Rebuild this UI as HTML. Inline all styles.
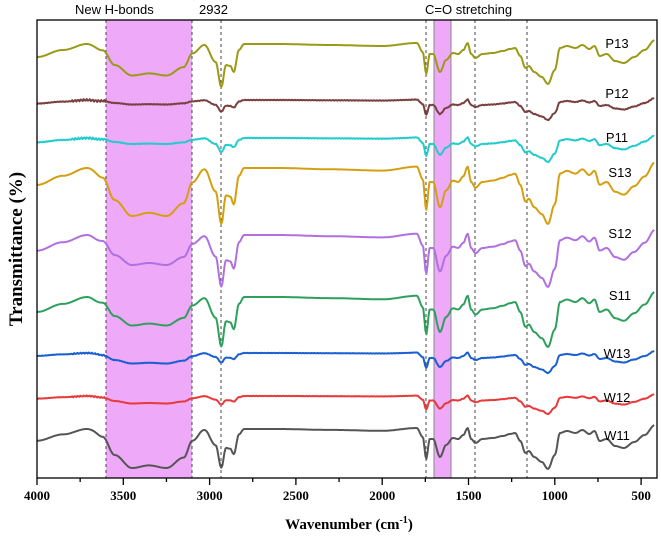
<!DOCTYPE html>
<html><head><meta charset="utf-8"><style>
body{margin:0;background:#fff;width:661px;height:543px;overflow:hidden}
svg{display:block}
.s{font-family:"Liberation Sans",sans-serif}
.r{font-family:"Liberation Serif",serif;font-weight:bold}
</style></head><body>
<svg id="s" width="661" height="543" viewBox="0 0 661 543" xmlns="http://www.w3.org/2000/svg">
<rect x="106" y="20" width="86" height="458" fill="#eeaaf8"/>
<rect x="434" y="20" width="17" height="458" fill="#eeaaf8"/>
<g stroke="#444" stroke-width="1" stroke-dasharray="3,3" fill="none">
<line x1="106" y1="20" x2="106" y2="478"/><line x1="192" y1="20" x2="192" y2="478"/>
<line x1="221" y1="20" x2="221" y2="478"/><line x1="426" y1="20" x2="426" y2="478"/>
<line x1="475" y1="20" x2="475" y2="478"/><line x1="527" y1="20" x2="527" y2="478"/>
</g>
<line x1="434" y1="20" x2="434" y2="478" stroke="#888"/><line x1="451" y1="20" x2="451" y2="478" stroke="#888"/>
<g id="curves" fill="none" stroke-width="2" stroke-linejoin="round"></g>
<rect x="37" y="20" width="620" height="458" fill="none" stroke="#000" stroke-width="1.3"/>
<g id="ticks" stroke="#000" stroke-width="1.3"></g>
<g font-size="13" class="r" text-anchor="middle" id="tl"></g>
<g class="s" font-size="13">
<text x="75" y="14">New H-bonds</text>
<text x="199" y="14">2932</text>
<text x="425" y="14">C=O stretching</text>
</g>
<g class="s" font-size="13" text-anchor="middle">
<text x="617" y="48">P13</text><text x="617" y="98">P12</text><text x="617" y="142">P11</text>
<text x="620" y="177">S13</text><text x="620" y="238">S12</text><text x="620" y="300">S11</text>
<text x="617" y="358">W13</text><text x="617" y="402">W12</text><text x="617" y="440">W11</text>
</g>
<text x="349" y="529" font-size="15" class="r" text-anchor="middle">Wavenumber (cm<tspan font-size="10" dy="-6">-1</tspan><tspan dy="6">)</tspan></text>
<text transform="translate(22,249) rotate(-90)" font-size="19" class="r" text-anchor="middle">Transmittance (%)</text>
</svg>
<script>
var X=function(w){return 37+(4000-w)*0.1726;};
var T=[[4000,13],[3850,6],[3710,0],[3620,6],[3550,20],[3450,30],[3350,28],[3250,30],[3150,22],[3100,9],[3030,1],[2965,18],[2932,43],[2905,21],[2880,22],[2860,28],[2830,6],[2800,0],[2600,0],[2300,1],[2000,2],[1800,-1],[1765,8],[1745,30],[1725,10],[1705,10],[1665,28],[1630,16],[1590,9],[1560,10],[1530,6],[1505,-1],[1485,10],[1460,14],[1420,10],[1360,9],[1300,7],[1260,5],[1230,4],[1200,12],[1170,24],[1150,22],[1120,28],[1075,33],[1040,40],[1000,26],[970,4],[930,2],[880,4],[840,1],[800,5],[770,2],[740,12],[700,10],[650,17],[600,19],[540,13],[480,6],[420,-4]];
function f(w){for(var i=0;i<T.length-1;i++){var a=T[i],b=T[i+1];if(w<=a[0]&&w>=b[0]){var t=(a[0]-w)/(a[0]-b[0]);t=(1-Math.cos(t*Math.PI))/2;return a[1]+(b[1]-a[1])*t;}}return 0;}
function sm(e0,e1,x){var t=Math.max(0,Math.min(1,(x-e0)/(e1-e0)));return t*t*(3-2*t);}
var S=[["#9a9a18",44,1.0,1.05,1.0,0],["#7a4040",100,0.27,0.15,0.5,1],["#22cccc",138,0.33,0.2,0.6,1],["#d49f10",168,1.3,1.6,1.4,0],["#b070e0",235,1.2,1.0,1.3,0],["#2ea05c",297,1.15,0.95,1.25,0],["#1a5fd0",353,0.22,0.35,0.5,0.6],["#e83a3a",396,0.2,0.25,0.45,0.6],["#555555",429,0.9,1.3,1.0,0]];
var g=document.getElementById('curves'),h='';
S.forEach(function(s,k){var d='';for(var w=4000;w>=420;w-=6){
 var bw=sm(3680,3620,w)*sm(3020,3080,w); var rw=sm(1860,1790,w);
 var amp=s[2]*(1-bw-rw)+s[3]*bw+s[4]*rw;
 var n=s[5]*Math.sin(w*0.37+k)*(w>3600&&w<3800?1.0:0.3);
 var y=s[1]+amp*f(w)+n;d+=(d?'L':'M')+X(w).toFixed(1)+' '+y.toFixed(1);}
 h+='<path d="'+d+'" stroke="'+s[0]+'"/>';});
g.innerHTML=h;
var tk='',tl='';for(var w=4000;w>=500;w-=250){var x=X(w);var mj=w%500==0;tk+='<line x1="'+x+'" y1="478" x2="'+x+'" y2="'+(mj?485:482)+'"/>';if(mj)tl+='<text x="'+x+'" y="500">'+w+'</text>';}
document.getElementById('ticks').innerHTML=tk;document.getElementById('tl').innerHTML=tl;
</script>
</body></html>
